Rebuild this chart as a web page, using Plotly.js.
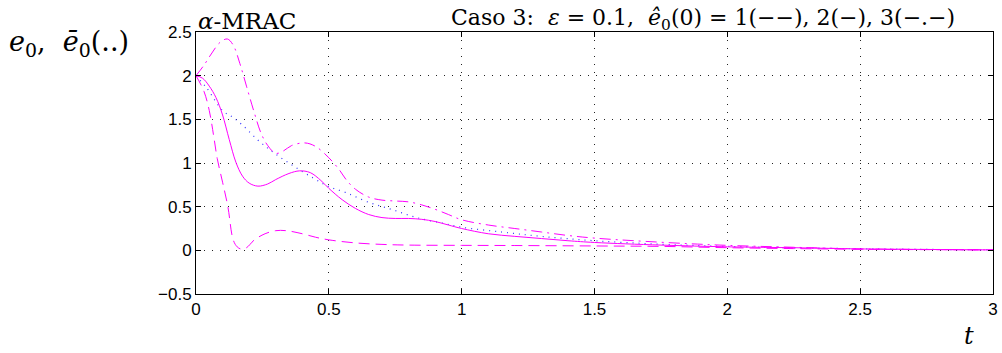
<!DOCTYPE html>
<html><head><meta charset="utf-8">
<script src="https://cdn.plot.ly/plotly-3.0.1.min.js"></script>
<style>body{margin:0;background:#fff}#chart{width:1002px;height:353px}</style>
</head><body><div id="chart"></div>
<script>
// Case 1 (dashed)
const t1 = [0,0.03,0.05,0.067,0.08,0.1,0.12,0.14,0.155,0.17,0.19,0.22,0.26,0.3,0.34,0.4,0.45,0.5,0.6,0.7,0.8,1.0,1.2,1.5,1.75,2.0,2.25,2.5,2.75,3.0];
const e1 = [2.0,1.82,1.6,1.3,1.05,0.78,0.5,0.12,0.04,0.015,0.03,0.12,0.19,0.225,0.225,0.19,0.15,0.12,0.085,0.068,0.06,0.057,0.055,0.05,0.045,0.03,0.02,0.012,0.008,0.005];
// Case 2 (solid)
const t2 = [0,0.025,0.05,0.075,0.1,0.125,0.15,0.175,0.2,0.233,0.27,0.3,0.35,0.39,0.43,0.47,0.5,0.55,0.6,0.65,0.7,0.75,0.8,0.85,0.9,0.95,1.0,1.1,1.2,1.3,1.4,1.5,1.75,2.0,2.25,2.5,2.75,3.0];
const e2 = [2.0,1.97,1.88,1.75,1.55,1.27,1.01,0.85,0.77,0.735,0.76,0.81,0.88,0.91,0.89,0.8,0.71,0.58,0.48,0.41,0.375,0.365,0.365,0.355,0.33,0.29,0.25,0.19,0.16,0.135,0.11,0.09,0.06,0.04,0.03,0.016,0.01,0.005];
// Case 3 (dash-dot)
const t3 = [0,0.03,0.06,0.09,0.118,0.14,0.165,0.19,0.22,0.245,0.27,0.3,0.33,0.36,0.41,0.45,0.5,0.54,0.565,0.6,0.65,0.7,0.75,0.8,0.85,0.9,0.95,1.0,1.1,1.2,1.3,1.4,1.5,1.65,1.85,2.0,2.25,2.5,2.75,3.0];
const e3 = [2.0,2.12,2.26,2.38,2.42,2.35,2.14,1.88,1.57,1.34,1.2,1.11,1.14,1.2,1.23,1.19,1.06,0.92,0.81,0.7,0.61,0.575,0.565,0.555,0.52,0.47,0.41,0.35,0.29,0.25,0.21,0.17,0.14,0.11,0.077,0.057,0.035,0.016,0.01,0.005];
// Reference (dotted, blue)
const tr = [0,0.04,0.1,0.14,0.18,0.23,0.27,0.31,0.37,0.44,0.5,0.565,0.65,0.74,0.83,0.93,1.0,1.15,1.3,1.5,1.75,2.0,2.5,3.0];
const er = [2.0,1.86,1.6,1.52,1.42,1.27,1.17,1.08,0.96,0.83,0.73,0.66,0.55,0.465,0.375,0.31,0.265,0.21,0.16,0.11,0.07,0.045,0.018,0.006];

const xTicks = [0,0.5,1,1.5,2,2.5,3];
const xTickText = ['0','0.5','1','1.5','2','2.5','3'];
const yTicks = [-0.5,0,0.5,1,1.5,2,2.5];
const yTickText = ['\u22120.5','0','0.5','1','1.5','2','2.5'];

const mag = '#ff00ff';
const traces = [
  {x:tr,y:er,mode:'lines',line:{color:'#3333ff',width:1.2,dash:'1px,5px',shape:'spline'}},
  {x:t1,y:e1,mode:'lines',line:{color:mag,width:1,dash:'11px,6px',shape:'spline'}},
  {x:t2,y:e2,mode:'lines',line:{color:mag,width:1,shape:'spline'}},
  {x:t3,y:e3,mode:'lines',line:{color:mag,width:1,dash:'11px,5px,2px,5px',shape:'spline'}}
];

const axisCommon = {
  showline:true, linecolor:'#000', linewidth:1, mirror:'allticks',
  ticks:'inside', ticklen:5, tickcolor:'#000',
  showgrid:true, gridcolor:'#222', griddash:'1px,7px', gridwidth:1,
  zeroline:false,
  tickfont:{family:'Liberation Sans, Arial, sans-serif', size:17, color:'#000'}
};

const serif = 'DejaVu Serif, Liberation Serif, serif';
const layout = {
  width:1002, height:353,
  margin:{l:196, r:9, t:32, b:59},
  paper_bgcolor:'#fff', plot_bgcolor:'#fff',
  showlegend:false,
  xaxis:Object.assign({}, axisCommon, {range:[0,3], tickvals:xTicks, ticktext:xTickText}),
  yaxis:Object.assign({}, axisCommon, {range:[-0.5,2.5], tickvals:yTicks, ticktext:yTickText}),
  annotations:[
    {xref:'paper',yref:'paper',x:0,y:1,xanchor:'left',yanchor:'bottom',yshift:-4,showarrow:false,
     text:'<i>α</i>-MRAC',font:{family:serif,size:23,color:'#000'}},
    {xref:'paper',yref:'paper',x:0.955,y:1,xanchor:'right',yanchor:'bottom',yshift:-4,showarrow:false,
     text:'Caso 3:  <i>ε</i> = 0.1,  <i>ê</i><sub>0</sub>(0) = 1(−−), 2(−), 3(−.−)',
     font:{family:serif,size:22,color:'#000'}},
    {xref:'paper',yref:'paper',x:-0.237,y:1.03,xanchor:'left',yanchor:'top',showarrow:false,
     text:'<i>e</i><sub>0</sub>,  <i>e\u0304</i><sub>0</sub>(..)',
     font:{family:serif,size:27,color:'#000'}},
    {xref:'paper',yref:'paper',x:0.97,y:-0.1,xanchor:'center',yanchor:'top',showarrow:false,
     text:'<i>t</i>',font:{family:serif,size:24,color:'#000'}}
  ]
};

Plotly.newPlot('chart', traces, layout, {displayModeBar:false, staticPlot:true});
</script>
</body></html>
